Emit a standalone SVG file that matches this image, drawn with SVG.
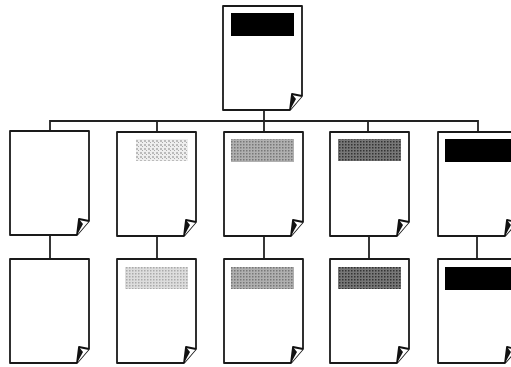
<svg xmlns="http://www.w3.org/2000/svg" width="511" height="367" viewBox="0 0 511 367">
<style>
.page{fill:#fff;stroke:#1a1a1a;stroke-width:1.8;stroke-linejoin:round}
.curl{fill:#fff;stroke:#111;stroke-width:1.8;stroke-linejoin:round}
.line{fill:none;stroke:#222;stroke-width:1.8}
</style>
<defs>
<g id="sheet">
<path class="page" d="M0 0H79V90L67 104H0Z"/>
<path class="curl" d="M67 104L69 88L79 90"/>
<path d="M67 104L69 88L73 93Z" fill="#111"/>
</g>
<pattern id="p1" width="4" height="4" patternUnits="userSpaceOnUse"><rect width="4" height="4" fill="#eee"/><rect width="2" height="2" fill="#bbb"/><rect x="2" y="2" width="1" height="1" fill="#aaa"/></pattern>
<pattern id="p1b" width="3" height="3" patternUnits="userSpaceOnUse"><rect width="3" height="3" fill="#ddd"/><rect width="1.5" height="1.5" fill="#aaa"/></pattern>
<pattern id="p3" width="3" height="3" patternUnits="userSpaceOnUse"><rect width="3" height="3" fill="#b0b0b0"/><rect width="1.5" height="1.5" fill="#777"/></pattern>
<pattern id="p4" width="3" height="3" patternUnits="userSpaceOnUse"><rect width="3" height="3" fill="#777"/><rect width="1.5" height="1.5" fill="#333"/></pattern>
</defs>
<g id="connectors" class="line">
<path d="M264 110V132"/>
<path d="M50 131V121H478V132"/>
<path d="M157 121V132M368 121V132"/>
<path d="M50 236V259M157 236V259M264 236V259M369 236V259M477 236V259"/>
</g>
<g id="top"><use href="#sheet" x="223" y="6"/><rect x="231" y="13" width="63" height="23" fill="#000"/></g>
<g id="a1"><use href="#sheet" x="10" y="131"/></g>
<g id="b1"><use href="#sheet" x="117" y="132"/><rect x="136" y="139" width="52" height="22" fill="url(#p1)"/></g>
<g id="c1"><use href="#sheet" x="224" y="132"/><rect x="231" y="139" width="63" height="23" fill="url(#p3)"/></g>
<g id="d1"><use href="#sheet" x="330" y="132"/><rect x="338" y="139" width="63" height="22" fill="url(#p4)"/></g>
<g id="e1"><use href="#sheet" x="438" y="132"/><rect x="445" y="139" width="66" height="23" fill="#000"/></g>
<g id="a2"><use href="#sheet" x="10" y="259"/></g>
<g id="b2"><use href="#sheet" x="117" y="259"/><rect x="125" y="267" width="63" height="22" fill="url(#p1b)"/></g>
<g id="c2"><use href="#sheet" x="224" y="259"/><rect x="231" y="267" width="63" height="22" fill="url(#p3)"/></g>
<g id="d2"><use href="#sheet" x="330" y="259"/><rect x="338" y="267" width="63" height="22" fill="url(#p4)"/></g>
<g id="e2"><use href="#sheet" x="438" y="259"/><rect x="445" y="267" width="66" height="23" fill="#000"/></g>
</svg>
